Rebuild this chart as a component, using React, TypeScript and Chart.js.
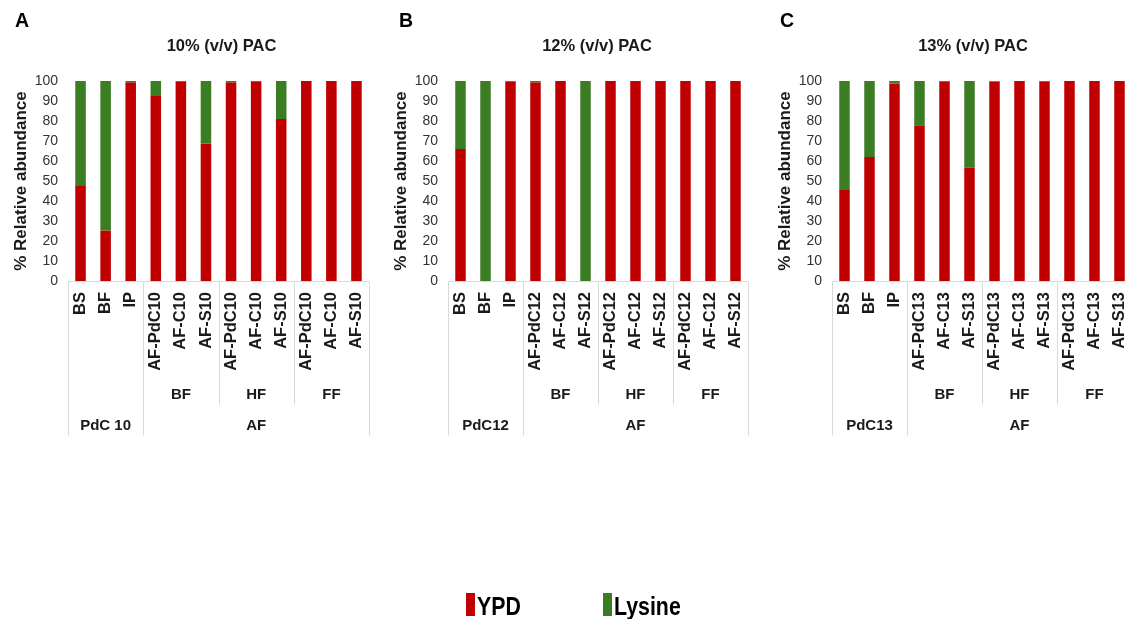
import React, { useEffect, useRef } from 'react';
import { Chart, registerables } from 'chart.js';

Chart.register(...registerables);

const FONT = '"Liberation Sans", Arial, Helvetica, sans-serif';
const RED = '#C00000';
const GREEN = '#3B7D23';

const labelsA = ['BS', 'BF', 'IP', 'AF-PdC10', 'AF-C10', 'AF-S10', 'AF-PdC10', 'AF-C10', 'AF-S10', 'AF-PdC10', 'AF-C10', 'AF-S10'];
const labelsB = ['BS', 'BF', 'IP', 'AF-PdC12', 'AF-C12', 'AF-S12', 'AF-PdC12', 'AF-C12', 'AF-S12', 'AF-PdC12', 'AF-C12', 'AF-S12'];
const labelsC = ['BS', 'BF', 'IP', 'AF-PdC13', 'AF-C13', 'AF-S13', 'AF-PdC13', 'AF-C13', 'AF-S13', 'AF-PdC13', 'AF-C13', 'AF-S13'];

const ypdA = [47.5, 25.2, 99.2, 92.5, 99.7, 68.8, 99.2, 99.7, 81, 100, 100, 100];
const lysA = [52.5, 74.8, 0.8, 7.5, 0.3, 31.2, 0.8, 0.3, 19, 0, 0, 0];
const ypdB = [66, 0, 99.7, 99.2, 100, 0, 100, 100, 100, 100, 100, 100];
const lysB = [34, 100, 0.3, 0.8, 0, 100, 0, 0, 0, 0, 0, 0];
const ypdC = [45.5, 62, 98.8, 77.7, 99.7, 56.8, 99.8, 100, 99.7, 100, 100, 100];
const lysC = [54.5, 38, 1.2, 22.3, 0.3, 43.2, 0.2, 0, 0.3, 0, 0, 0];

const subGroups = ['BF', 'HF', 'FF'];
const groupsA = ['PdC 10', 'AF'];
const groupsB = ['PdC12', 'AF'];
const groupsC = ['PdC13', 'AF'];

const titles = ['10% (v/v) PAC', '12% (v/v) PAC', '13% (v/v) PAC'];
const letters = ['A', 'B', 'C'];

const CANVAS_W = 380;
const CANVAS_H = 619;
const Y_W = 60;
const X_H = 150;
const TOP = 81;
const BOTTOM = 281;

type PanelProps = {
  left: number;
  chartLeft: number;
  chartRight: number;
  labels: string[];
  ypd: number[];
  lys: number[];
  groups: string[];
};

function Panel({ left, chartLeft, chartRight, labels, ypd, lys, groups }: PanelProps) {
  const ref = useRef<HTMLCanvasElement>(null);

  useEffect(() => {
    const boxPlugin = {
      id: 'categoryBox',
      afterDraw(chart: any) {
        const { ctx, chartArea } = chart;
        const x = chart.scales.x;
        const n = labels.length;
        const step = (chartArea.right - chartArea.left) / n;
        const edge = (i: number) => (i < n ? x.getPixelForValue(i) - step / 2 : x.getPixelForValue(n - 1) + step / 2);
        const px = (v: number) => Math.round(v) + 0.5;
        const b = px(chartArea.bottom);
        ctx.save();
        ctx.strokeStyle = '#D9D9D9';
        ctx.lineWidth = 1;
        ctx.beginPath();
        ctx.moveTo(edge(0), b);
        ctx.lineTo(edge(n), b);
        [0, 3, n].forEach((i) => {
          ctx.moveTo(px(edge(i)), b);
          ctx.lineTo(px(edge(i)), b + 154);
        });
        [6, 9].forEach((i) => {
          ctx.moveTo(px(edge(i)), b);
          ctx.lineTo(px(edge(i)), b + 123);
        });
        ctx.stroke();
        ctx.fillStyle = '#1a1a1a';
        ctx.textAlign = 'center';
        ctx.textBaseline = 'middle';
        ctx.font = `bold 15px ${FONT}`;
        subGroups.forEach((g, k) => {
          const cx = (edge(3 + 3 * k) + edge(6 + 3 * k)) / 2;
          ctx.fillText(g, cx, b + 113);
        });
        ctx.fillText(groups[0], (edge(0) + edge(3)) / 2, b + 144);
        ctx.fillText(groups[1], (edge(3) + edge(n)) / 2, b + 144);
        ctx.restore();
      },
    };

    const chart = new Chart(ref.current as HTMLCanvasElement, {
      type: 'bar',
      data: {
        labels,
        datasets: [
          { label: 'YPD', data: ypd, backgroundColor: RED, borderWidth: 0, barPercentage: 0.42, categoryPercentage: 1 },
          { label: 'Lysine', data: lys, backgroundColor: GREEN, borderWidth: 0, barPercentage: 0.42, categoryPercentage: 1 },
        ],
      },
      options: {
        responsive: false,
        animation: false,
        devicePixelRatio: 1,
        layout: {
          padding: {
            left: chartLeft - Y_W,
            right: CANVAS_W - chartRight,
            top: TOP,
            bottom: CANVAS_H - BOTTOM - X_H,
          },
        },
        plugins: {
          legend: { display: false },
          tooltip: { enabled: false },
          title: { display: false },
        },
        scales: {
          x: {
            stacked: true,
            grid: { display: false, drawTicks: false },
            border: { display: false },
            afterFit: (s: any) => {
              s.height = X_H;
              s.paddingLeft = 0;
              s.paddingRight = 0;
            },
            ticks: {
              autoSkip: false,
              maxRotation: 90,
              minRotation: 90,
              padding: 11,
              color: '#1a1a1a',
              font: { family: FONT, size: 16.5, weight: 'bold' },
            },
          },
          y: {
            stacked: true,
            min: 0,
            max: 100,
            grid: { display: false, drawTicks: false },
            border: { display: false },
            afterFit: (s: any) => {
              s.width = Y_W;
            },
            ticks: {
              stepSize: 10,
              padding: 10,
              color: '#333333',
              font: { family: FONT, size: 14 },
            },
            title: {
              display: true,
              text: '% Relative abundance',
              color: '#1a1a1a',
              padding: { top: 3, bottom: 0 },
              font: { family: FONT, size: 17, weight: 'bold' },
            },
          },
        },
      },
      plugins: [boxPlugin],
    } as any);
    return () => chart.destroy();
  }, []);

  return (
    <canvas
      ref={ref}
      width={CANVAS_W}
      height={CANVAS_H}
      style={{ position: 'absolute', left, top: 0, width: CANVAS_W, height: CANVAS_H }}
    />
  );
}

const letterX = [15, 399, 780];
const titleX = [221.5, 597, 973];

export default function App() {
  return (
    <div
      style={{
        position: 'fixed',
        left: 0,
        top: 0,
        width: 1125,
        height: 619,
        overflow: 'hidden',
        background: '#ffffff',
        fontFamily: FONT,
        color: '#1a1a1a',
      }}
    >
      <Panel left={0} chartLeft={68} chartRight={369} labels={labelsA} ypd={ypdA} lys={lysA} groups={groupsA} />
      <Panel left={380} chartLeft={68} chartRight={368} labels={labelsB} ypd={ypdB} lys={lysB} groups={groupsB} />
      <Panel left={760} chartLeft={72} chartRight={372} labels={labelsC} ypd={ypdC} lys={lysC} groups={groupsC} />

      {letters.map((l, i) => (
        <div
          key={l}
          style={{ position: 'absolute', left: letterX[i], top: 11, fontSize: 19.5, lineHeight: '19.5px', fontWeight: 'bold', color: '#000' }}
        >
          {l}
        </div>
      ))}
      {titles.map((t, i) => (
        <div
          key={t}
          style={{
            position: 'absolute',
            left: titleX[i] - 150,
            width: 300,
            top: 36.5,
            textAlign: 'center',
            fontSize: 16.5,
            lineHeight: '16.5px',
            fontWeight: 'bold',
            color: '#1a1a1a',
            whiteSpace: 'nowrap',
          }}
        >
          {t}
        </div>
      ))}

      <div style={{ position: 'absolute', left: 466, top: 593, width: 9, height: 23, background: RED }} />
      <div
        style={{
          position: 'absolute',
          left: 476.5,
          top: 592.5,
          fontSize: 26,
          lineHeight: '26px',
          fontWeight: 'bold',
          color: '#000',
          transform: 'scaleX(0.82)',
          transformOrigin: 'left top',
          whiteSpace: 'nowrap',
        }}
      >
        YPD
      </div>
      <div style={{ position: 'absolute', left: 603, top: 593, width: 9, height: 23, background: GREEN }} />
      <div
        style={{
          position: 'absolute',
          left: 614,
          top: 592.5,
          fontSize: 26,
          lineHeight: '26px',
          fontWeight: 'bold',
          color: '#000',
          transform: 'scaleX(0.82)',
          transformOrigin: 'left top',
          whiteSpace: 'nowrap',
        }}
      >
        Lysine
      </div>
    </div>
  );
}
